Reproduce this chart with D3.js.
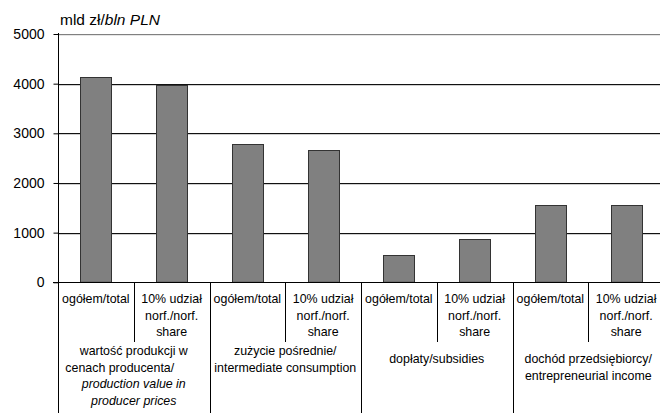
<!DOCTYPE html>
<html>
<head>
<meta charset="utf-8">
<script src="https://cdn.jsdelivr.net/npm/d3@7"></script>
<style>
  html, body { margin: 0; padding: 0; background: #fff; }
  svg { display: block; font-family: Arial, "Liberation Sans", sans-serif; }
</style>
</head>
<body>
<svg id="chart" width="660" height="413"></svg>
<script>
// ---- data ----
const categories = ["c1", "c2", "c3", "c4", "c5", "c6", "c7", "c8"];
const values = [4125, 3965, 2780, 2668, 556, 868, 1562, 1562];
const subLabels = [
  ["ogółem/total"], ["10% udział", "norf./norf.", "share"],
  ["ogółem/total"], ["10% udział", "norf./norf.", "share"],
  ["ogółem/total"], ["10% udział", "norf./norf.", "share"],
  ["ogółem/total"], ["10% udział", "norf./norf.", "share"]
];
const groupLabels = [
  [{t: "wartość produkcji w"}, {t: "cenach producenta/"}, {t: "production value in", i: true}, {t: "producer prices", i: true}],
  [{t: "zużycie pośrednie/"}, {t: "intermediate consumption"}],
  [{t: "dopłaty/subsidies"}],
  [{t: "dochód przedsiębiorcy/"}, {t: "entrepreneurial income"}]
];
const yTicks = [0, 1000, 2000, 3000, 4000, 5000];
const unitLabel = [{t: "mld zł/"}, {t: "bln PLN", i: true}];

(function () {
// ---- layout ----
const svg = d3.select("#chart");
const pLeft = 58, pRight = 664, pTop = 34, pBottom = 282.3;
const x = d3.scaleBand().domain(categories).range([pLeft, pRight]).padding(0);
const y = d3.scaleLinear().domain([0, 5000]).range([pBottom, pTop]);
const barW = x.bandwidth() * 0.41;

// gridlines (1px rects)
svg.append("g").attr("class", "grid").selectAll("rect")
  .data(yTicks.filter(d => d > 0)).join("rect")
  .attr("x", pLeft).attr("width", 660 - pLeft)
  .attr("y", d => Math.round(y(d))).attr("height", 1.2)
  .attr("fill", d => d === 5000 ? "#808080" : "#111");

// bars
svg.append("g").selectAll("rect").data(values).join("rect")
  .attr("x", (d, i) => Math.round(x(categories[i]) + (x.bandwidth() - barW) / 2) + 0.5)
  .attr("width", Math.round(barW))
  .attr("y", d => Math.round(y(d)) + 0.5)
  .attr("height", d => y(0) - Math.round(y(d)) - 0.5)
  .attr("fill", "#808080").attr("stroke", "#333").attr("stroke-width", 1);

// y axis
const yAxis = d3.axisLeft(y).tickValues(yTicks).tickFormat(d3.format("d")).tickSize(5).tickPadding(9).tickSizeOuter(0);
const gy = svg.append("g").attr("transform", `translate(${pLeft + 0.5},0)`).call(yAxis);
gy.select(".domain").remove();
gy.selectAll(".tick line").attr("stroke", "#000");
gy.selectAll(".tick text").attr("font-size", 14).attr("font-family", "Arial, 'Liberation Sans', sans-serif").attr("fill", "#000");
svg.append("line").attr("x1", pLeft + 0.5).attr("x2", pLeft + 0.5).attr("y1", pTop - 1).attr("y2", 413).attr("stroke", "#000");

// x axis line
svg.append("line").attr("x1", pLeft - 5).attr("x2", 660).attr("y1", Math.round(pBottom) + 0.5).attr("y2", Math.round(pBottom) + 0.5).attr("stroke", "#000");

// separators
categories.forEach((c, i) => {
  if (i === 0) return;
  const sx = Math.round(x(c)) + 0.5;
  const isGroup = i % 2 === 0;
  svg.append("line").attr("x1", sx).attr("x2", sx)
    .attr("y1", Math.round(pBottom)).attr("y2", isGroup ? 413 : 342)
    .attr("stroke", "#000");
});

// sub labels
const subG = svg.append("g").attr("font-size", 12.4).attr("fill", "#000").attr("text-anchor", "middle");
subLabels.forEach((lines, i) => {
  const cx = x(categories[i]) + x.bandwidth() / 2;
  lines.forEach((ln, j) => {
    subG.append("text").attr("x", cx).attr("y", 303 + j * 16.5).text(ln);
  });
});

// group labels
const groupTop = [355, 355, 363, 363];
const groupDx = [[0, -14, 0, 0], [0, 0], [0], [0, 0]];
const grpG = svg.append("g").attr("font-size", 12.4).attr("fill", "#000").attr("text-anchor", "middle");
groupLabels.forEach((lines, g) => {
  const cx = x(categories[g * 2]) + x.bandwidth();
  lines.forEach((ln, j) => {
    grpG.append("text").attr("x", cx + groupDx[g][j]).attr("y", groupTop[g] + j * 16.5)
      .attr("font-style", ln.i ? "italic" : "normal").text(ln.t);
  });
});

// unit label
const ut = svg.append("text").attr("x", 60).attr("y", 25).attr("font-size", 15.5).attr("fill", "#000");
unitLabel.forEach(p => ut.append("tspan").attr("font-style", p.i ? "italic" : "normal").text(p.t));
})();
</script>
</body>
</html>
